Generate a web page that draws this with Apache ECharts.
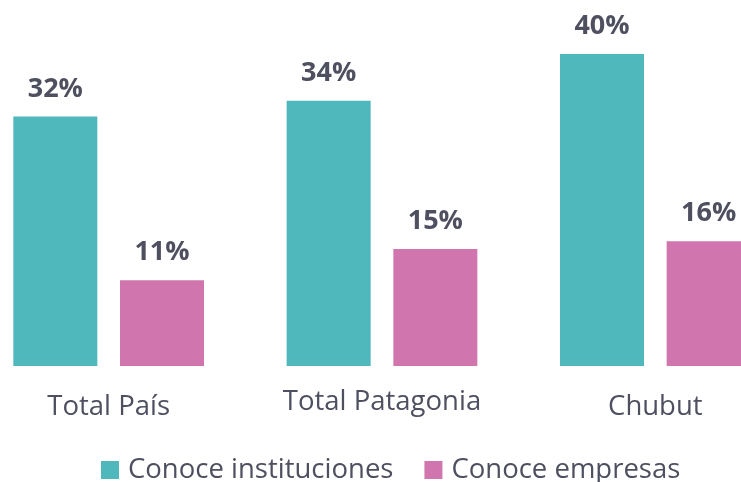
<!DOCTYPE html>
<html>
<head>
<meta charset="utf-8">
<script src="https://cdn.jsdelivr.net/npm/echarts@6/dist/echarts.min.js"></script>
<style>
  html, body { margin: 0; padding: 0; background: #fff; }
  #main { width: 741px; height: 482px; }
</style>
</head>
<body>
<div id="main"></div>
<script>
// datos del gráfico
const categorias = ['Total País', 'Total Patagonia', 'Chubut'];
const instituciones = [32, 34, 40];
const empresas = [11, 15, 16];
const nombresSeries = ['Conoce instituciones', 'Conoce empresas'];

const chart = echarts.init(document.getElementById('main'), null, { renderer: 'canvas' });

const textColor = '#4e5060';
const fontFamily = '"Open Sans", sans-serif';

const etiqueta = {
    show: true,
    position: 'top',
    distance: 14,
    formatter: '{c}%',
    color: textColor,
    fontFamily: fontFamily,
    fontWeight: 'bold',
    fontSize: 27
};

// la etiqueta del medio va un poco más arriba en el original
const ejeX = categorias.map(c => c === 'Total Patagonia'
    ? { value: c, textStyle: { lineHeight: 18 } }
    : c);

var option = {
    animation: false,
    textStyle: { fontFamily: fontFamily },
    grid: {
        left: -28,
        width: 820,
        top: 54,
        bottom: 116,
        containLabel: false,
        outerBoundsMode: 'none'
    },
    legend: {
        data: nombresSeries,
        left: 101,
        top: 456,
        padding: 0,
        itemWidth: 18,
        itemHeight: 18,
        itemGap: 31,
        icon: 'rect',
        textStyle: {
            color: textColor,
            fontSize: 27.5,
            fontFamily: fontFamily,
            padding: [0, 0, 0, 4]
        }
    },
    xAxis: {
        type: 'category',
        data: ejeX,
        axisLine: { show: false },
        axisTick: { show: false },
        axisLabel: {
            color: textColor,
            fontSize: 27.5,
            fontFamily: fontFamily,
            margin: 27
        }
    },
    yAxis: {
        type: 'value',
        min: 0,
        max: 40,
        show: false,
        splitLine: { show: false }
    },
    series: [
        {
            name: nombresSeries[0],
            type: 'bar',
            data: instituciones,
            barWidth: 84,
            barGap: '27%',
            itemStyle: { color: '#4eb8bc' },
            label: etiqueta
        },
        {
            name: nombresSeries[1],
            type: 'bar',
            data: empresas,
            barWidth: 84,
            barGap: '27%',
            itemStyle: { color: '#d175ae' },
            label: etiqueta
        }
    ]
};
chart.setOption(option);
</script>
</body>
</html>
